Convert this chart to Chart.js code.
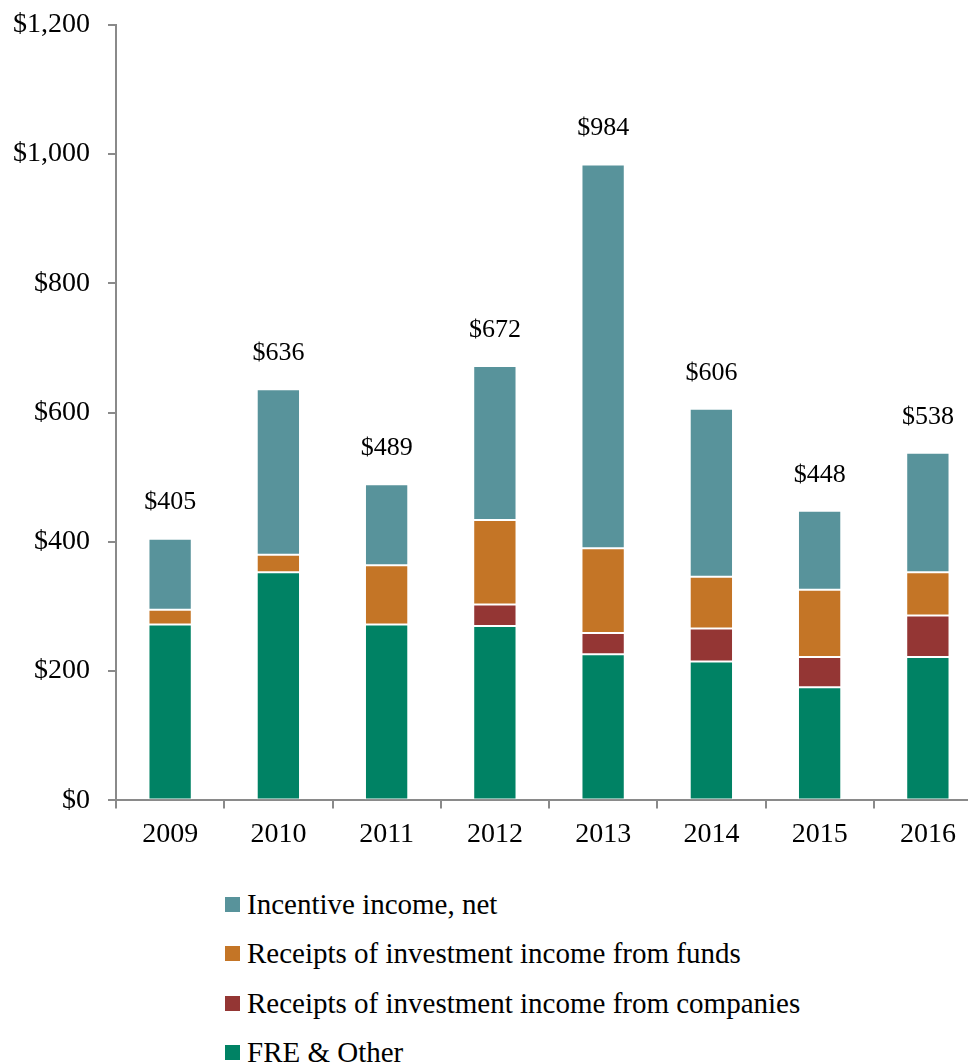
<!DOCTYPE html>
<html>
<head>
<meta charset="utf-8">
<script src="https://cdn.jsdelivr.net/npm/chart.js@4/dist/chart.umd.min.js"></script>
<style>
  body { margin: 0; background: #fff; overflow: hidden; width: 968px; height: 1063px; }
  #wrap { position: relative; width: 968px; height: 1063px; overflow: hidden; }
  /* canvas pulled up a little so the $1,200 line sits where it does in the original */
  #canvas { position: absolute; left: 0; top: -10px; }
  #legend { position: absolute; left: 225px; top: 880px; font-family: 'Liberation Serif', 'Times New Roman', serif; font-size: 29px; color: #000; }
  #legend div { height: 49.4px; line-height: 49.4px; white-space: nowrap; }
  #legend span.box { display: inline-block; width: 15px; height: 15px; margin-right: 7px; vertical-align: middle; position: relative; top: -3px; }
</style>
</head>
<body>
<div id="wrap">
  <canvas id="canvas" width="984" height="870"></canvas>
  <div id="legend"></div>
</div>
<script>
// data ($ millions)
const years = ['2009', '2010', '2011', '2012', '2013', '2014', '2015', '2016'];
const freOther = [272, 353, 272, 270, 226, 215, 175, 222];
const fromCompanies = [0, 0, 0, 33, 33, 51, 47, 64];
const fromFunds = [23, 27, 92, 131, 131, 80, 104, 67];
const incentiveNet = [110, 256, 125, 238, 594, 260, 122, 185];
const totals = [405, 636, 489, 672, 984, 606, 448, 538];
const yTicks = [0, 200, 400, 600, 800, 1000, 1200];

const serif = "'Liberation Serif', 'Times New Roman', serif";
const axisGrey = '#8a8a8a';

Chart.defaults.font.family = serif;
Chart.defaults.color = '#000';

function money(v) {
    return '$' + Number(v).toLocaleString('en-US');
}

// total labels above each stack
const totalLabels = {
    id: 'totalLabels',
    afterDatasetsDraw: function(chart) {
        const ctx = chart.ctx;
        const meta = chart.getDatasetMeta(chart.data.datasets.length - 1);
        ctx.save();
        ctx.font = '26px ' + serif;
        ctx.fillStyle = '#000';
        ctx.textAlign = 'center';
        ctx.textBaseline = 'middle';
        meta.data.forEach(function(bar, i) {
            ctx.fillText(money(totals[i]), bar.x, bar.y - 36);
        });
        ctx.restore();
    }
};

const ctx = document.getElementById('canvas').getContext('2d');
const chart = new Chart(ctx, {
    type: 'bar',
    data: {
        labels: years,
        datasets: [
            { label: 'FRE & Other', data: freOther, backgroundColor: '#008264' },
            { label: 'Receipts of investment income from companies', data: fromCompanies, backgroundColor: '#943634' },
            { label: 'Receipts of investment income from funds', data: fromFunds, backgroundColor: '#c47526' },
            { label: 'Incentive income, net', data: incentiveNet, backgroundColor: '#58939b' }
        ]
    },
    options: {
        responsive: false,
        animation: false,
        layout: { padding: { top: 15, right: 2, left: 0, bottom: 0 } },
        datasets: {
            bar: {
                barPercentage: 0.4,
                categoryPercentage: 1,
                borderWidth: 1,
                borderColor: 'rgba(255,255,255,0.3)',
                borderSkipped: false
            }
        },
        plugins: {
            legend: { display: false },
            tooltip: { enabled: false }
        },
        scales: {
            x: {
                stacked: true,
                grid: { display: true, drawOnChartArea: false, drawTicks: true, tickLength: 8, color: axisGrey, lineWidth: 2, offset: true },
                border: { color: axisGrey, width: 2 },
                ticks: { font: { size: 28 }, padding: 9, maxRotation: 0 }
            },
            y: {
                stacked: true,
                min: 0,
                max: 1200,
                afterFit: function(scale) { scale.width = 116; },
                afterBuildTicks: function(scale) {
                    scale.ticks = yTicks.map(function(v) { return { value: v }; });
                },
                grid: { display: true, drawOnChartArea: false, drawTicks: true, tickLength: 8, color: axisGrey, lineWidth: 2 },
                border: { color: axisGrey, width: 2 },
                ticks: { font: { size: 28 }, padding: 18, callback: function(v) { return money(v); } }
            }
        }
    },
    plugins: [totalLabels]
});

// legend: one item per row, top of stack first
var legend = document.getElementById('legend');
chart.data.datasets.slice().reverse().forEach(function(ds) {
    var row = document.createElement('div');
    var box = document.createElement('span');
    box.className = 'box';
    box.style.background = ds.backgroundColor;
    row.appendChild(box);
    row.appendChild(document.createTextNode(ds.label));
    legend.appendChild(row);
});
</script>
</body>
</html>
